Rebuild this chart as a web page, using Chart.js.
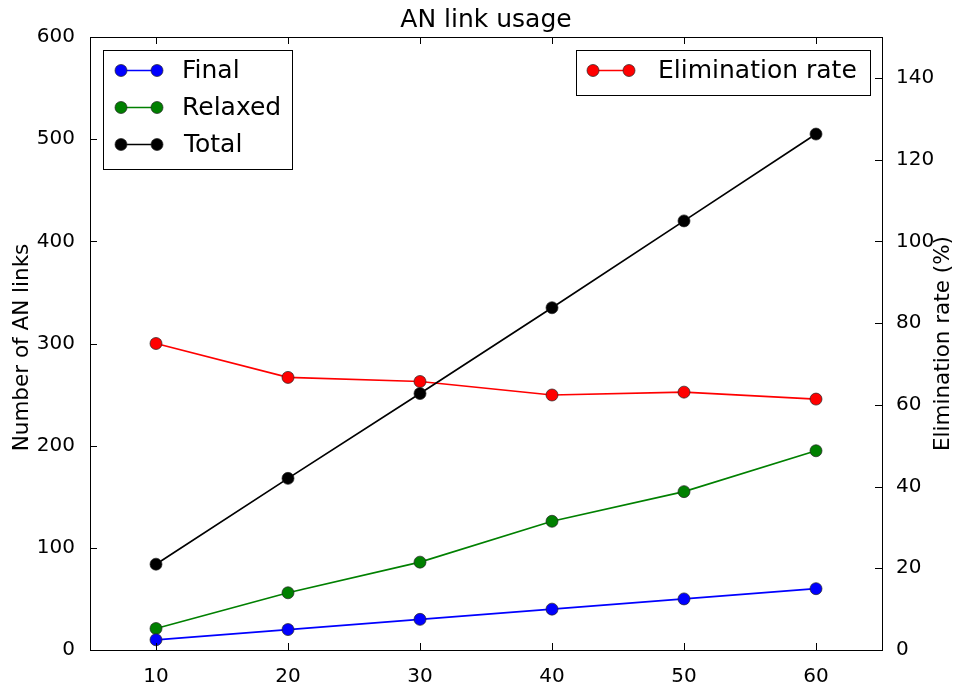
<!DOCTYPE html>
<html>
<head>
<meta charset="utf-8">
<script src="https://cdn.jsdelivr.net/npm/chart.js@4.4.0/dist/chart.umd.min.js"></script>
<style>
html,body{margin:0;padding:0;background:#fff;}
#wrap{width:956px;height:682px;position:relative;}
</style>
</head>
<body>
<div id="wrap"><canvas id="c" width="956" height="682"></canvas></div>
<script>
const categories = [10, 20, 30, 40, 50, 60];
const finalLinks = [10, 20, 30, 40, 50, 60];
const relaxedLinks = [21, 56, 86, 126, 155, 195];
const totalLinks = [84, 168, 251, 335, 420, 505];
const eliminationRate = [75.0, 66.7, 65.7, 62.4, 63.1, 61.4];
const xTicks = [10, 20, 30, 40, 50, 60];
const leftTicks = [0, 100, 200, 300, 400, 500, 600];
const rightTicks = [0, 20, 40, 60, 80, 100, 120, 140];

const FONT = "'DejaVu Sans', sans-serif";

function pts(vals) { return categories.map((x, i) => ({x: x, y: vals[i]})); }

function ds(label, vals, color, axis) {
  return {
    label: label, data: pts(vals), yAxisID: axis,
    borderColor: color, backgroundColor: color, borderWidth: 1.7,
    pointRadius: 6, pointHoverRadius: 6,
    pointBackgroundColor: color, pointBorderColor: '#222', pointBorderWidth: 0.7,
    tension: 0, fill: false
  };
}

const decor = {
  id: 'decor',
  afterDraw(chart) {
    const ctx = chart.ctx, a = chart.chartArea;
    const sx = chart.scales.x, sl = chart.scales.y, sr = chart.scales.y2;
    ctx.save();
    // frame
    ctx.strokeStyle = '#000'; ctx.lineWidth = 1;
    ctx.strokeRect(Math.round(a.left) + 0.5, Math.round(a.top) + 0.5, Math.round(a.right - a.left), Math.round(a.bottom - a.top));
    // inward ticks
    const tl = 7;
    ctx.beginPath();
    xTicks.forEach(v => {
      const px = Math.round(sx.getPixelForValue(v)) + 0.5;
      ctx.moveTo(px, a.bottom); ctx.lineTo(px, a.bottom - tl);
      ctx.moveTo(px, a.top); ctx.lineTo(px, a.top + tl);
    });
    leftTicks.forEach(v => {
      const py = Math.round(sl.getPixelForValue(v)) + 0.5;
      ctx.moveTo(a.left, py); ctx.lineTo(a.left + tl, py);
    });
    rightTicks.forEach(v => {
      const py = Math.round(sr.getPixelForValue(v)) + 0.5;
      ctx.moveTo(a.right, py); ctx.lineTo(a.right - tl, py);
    });
    ctx.stroke();

    // title
    ctx.fillStyle = '#000';
    ctx.font = '25px ' + FONT;
    ctx.textAlign = 'center'; ctx.textBaseline = 'alphabetic';
    ctx.fillText('AN link usage', (a.left + a.right) / 2, 27);

    // axis titles
    ctx.font = '21.5px ' + FONT;
    ctx.save();
    ctx.translate(22, (a.top + a.bottom) / 2 + 4);
    ctx.rotate(-Math.PI / 2);
    ctx.textBaseline = 'middle';
    ctx.fillText('Number of AN links', 0, 0);
    ctx.restore();
    ctx.save();
    ctx.translate(943, (a.top + a.bottom) / 2);
    ctx.rotate(-Math.PI / 2);
    ctx.textBaseline = 'middle';
    ctx.fillText('Elimination rate (%)', 0, 0);
    ctx.restore();

    // legends
    function legendBox(x1, y1, x2, y2, items) {
      ctx.fillStyle = '#fff';
      ctx.fillRect(x1, y1, x2 - x1, y2 - y1);
      ctx.strokeStyle = '#000'; ctx.lineWidth = 1;
      ctx.strokeRect(x1 + 0.5, y1 + 0.5, x2 - x1, y2 - y1);
      items.forEach(it => {
        ctx.strokeStyle = it.color; ctx.lineWidth = 1.7;
        ctx.beginPath(); ctx.moveTo(it.m1, it.y); ctx.lineTo(it.m2, it.y); ctx.stroke();
        [it.m1, it.m2].forEach(mx => {
          ctx.beginPath(); ctx.arc(mx, it.y, 6, 0, Math.PI * 2);
          ctx.fillStyle = it.color; ctx.fill();
          ctx.strokeStyle = '#222'; ctx.lineWidth = 0.7; ctx.stroke();
        });
        ctx.fillStyle = '#000';
        ctx.font = '25px ' + FONT;
        ctx.textAlign = 'left'; ctx.textBaseline = 'middle';
        ctx.fillText(it.label, it.tx, it.y + 1);
      });
    }
    legendBox(103, 50, 292, 169, [
      {label: 'Final', color: '#0000ff', y: 70.5, m1: 121, m2: 157, tx: 182},
      {label: 'Relaxed', color: '#008000', y: 107.5, m1: 121, m2: 157, tx: 182},
      {label: 'Total', color: '#000000', y: 144.5, m1: 121, m2: 157, tx: 184}
    ]);
    legendBox(576, 50, 870, 95, [
      {label: 'Elimination rate', color: '#ff0000', y: 70.5, m1: 593, m2: 629, tx: 658}
    ]);
    ctx.restore();
  }
};

new Chart(document.getElementById('c'), {
  type: 'line',
  data: {
    datasets: [
      ds('Final', finalLinks, '#0000ff', 'y'),
      ds('Relaxed', relaxedLinks, '#008000', 'y'),
      ds('Total', totalLinks, '#000000', 'y'),
      ds('Elimination rate', eliminationRate, '#ff0000', 'y2')
    ]
  },
  options: {
    responsive: false, animation: false,
    layout: {padding: {top: 37, left: 0, right: 0, bottom: 0}},
    plugins: {legend: {display: false}, title: {display: false}, tooltip: {enabled: false}},
    scales: {
      x: {
        type: 'linear', min: 5, max: 65,
        afterBuildTicks: s => { s.ticks = xTicks.map(v => ({value: v})); },
        afterFit: s => { s.height = 32; },
        grid: {display: false}, border: {display: false},
        ticks: {font: {family: FONT, size: 20}, color: '#000', padding: 7}
      },
      y: {
        position: 'left', min: 0, max: 600,
        afterBuildTicks: s => { s.ticks = leftTicks.map(v => ({value: v})); },
        afterFit: s => { s.width = 90; },
        grid: {display: false}, border: {display: false},
        ticks: {font: {family: FONT, size: 20}, color: '#000', padding: 7}
      },
      y2: {
        position: 'right', min: 0, max: 150,
        afterBuildTicks: s => { s.ticks = rightTicks.map(v => ({value: v})); },
        afterFit: s => { s.width = 74; },
        grid: {display: false}, border: {display: false},
        ticks: {font: {family: FONT, size: 20}, color: '#000', padding: 6}
      }
    }
  },
  plugins: [decor]
});
</script>
</body>
</html>
